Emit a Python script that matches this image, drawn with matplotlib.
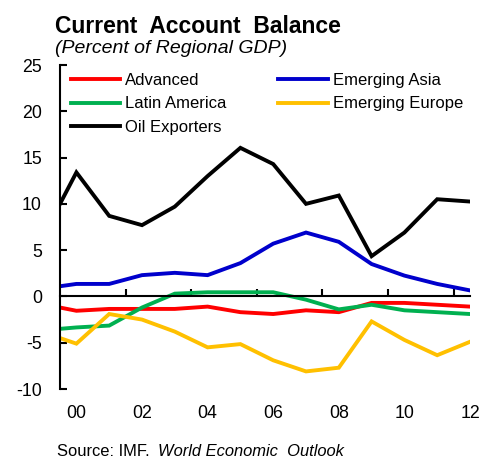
import numpy as np
import matplotlib
matplotlib.use("Agg")
import matplotlib.pyplot as plt
import matplotlib.transforms as mtransforms

plt.rcParams['font.family'] = ['Liberation Sans', 'DejaVu Sans']

years = np.arange(1999, 2013)
advanced = [-0.85, -1.55, -1.35, -1.35, -1.35, -1.1, -1.7, -1.9, -1.5, -1.7, -0.7, -0.7, -0.9, -1.1]
emerging_asia = [0.85, 1.35, 1.35, 2.3, 2.55, 2.3, 3.6, 5.7, 6.9, 5.9, 3.5, 2.25, 1.35, 0.65]
latin_america = [-3.65, -3.35, -3.15, -1.2, 0.3, 0.45, 0.45, 0.45, -0.35, -1.4, -0.9, -1.5, -1.7, -1.9]
emerging_europe = [-3.9, -5.1, -1.9, -2.5, -3.8, -5.5, -5.15, -6.9, -8.1, -7.7, -2.7, -4.7, -6.35, -4.9]
oil_exporters = [6.6, 13.4, 8.7, 7.7, 9.7, 13.0, 16.05, 14.3, 10.0, 10.9, 4.35, 6.9, 10.5, 10.25]

series_names = ["Advanced", "Latin America", "Oil Exporters", "Emerging Asia", "Emerging Europe"]
series_values = [advanced, latin_america, oil_exporters, emerging_asia, emerging_europe]
series_colors = ["#FF0000", "#00B050", "#000000", "#0000CC", "#FFC000"]

xtick_years = [2000, 2002, 2004, 2006, 2008, 2010, 2012]
xtick_labels = ["00", "02", "04", "06", "08", "10", "12"]
yticks = [-10, -5, 0, 5, 10, 15, 20, 25]
ytick_labels = ["-10", "-5", "0", "5", "10", "15", "20", "25"]

fig = plt.figure(figsize=(4.86, 4.58), dpi=100)
ax = fig.add_axes([60/486, 1-389/458, 410/486, 324/458])

handles = []
for name, vals, col in zip(series_names, series_values, series_colors):
    h, = ax.plot(years, vals, color=col, lw=2.8, label=name, solid_joinstyle='miter')
    handles.append(h)

ax.set_xlim(1999.5, 2012)
ax.set_ylim(-10, 25)

for s in ['top', 'right']:
    ax.spines[s].set_visible(False)
ax.spines['bottom'].set_position(('data', 0))
ax.spines['bottom'].set_linewidth(1.5)
ax.spines['left'].set_linewidth(1.5)

ax.set_yticks(yticks)
ax.set_yticklabels(ytick_labels)
ax.tick_params(axis='y', direction='in', length=5, width=1.5, pad=13, labelsize=12.8)
ax.set_xticks(np.arange(2001.5, 2012, 2))
ax.set_xticklabels([])
ax.tick_params(axis='x', direction='in', length=5, width=1.5)

trans = mtransforms.blended_transform_factory(ax.transData, ax.transAxes)
for yr, lab in zip(xtick_years, xtick_labels):
    ax.text(yr, -0.075, lab, transform=trans, ha='center', va='center', fontsize=12.8)

leg = ax.legend(handles=handles, ncol=2, loc='upper left', bbox_to_anchor=(0.026, 0.975),
                frameon=False, fontsize=12, handlelength=2.95, handletextpad=0.33,
                columnspacing=3.1, labelspacing=0.5, borderpad=0, borderaxespad=0)

fig.text(55/486, 1-33.3/458, "Current  Account  Balance", fontsize=16.5, fontweight='bold',
         ha='left', va='baseline')
fig.text(55/486, 1-53.3/458, "(Percent of Regional GDP)", fontsize=14, style='italic',
         ha='left', va='baseline')
t1 = fig.text(57/486, 1-456/458, "Source: IMF.", fontsize=11.9, ha='left', va='baseline')
fig.canvas.draw()
bb = t1.get_window_extent()
fig.text((bb.x1 + 8)/486, 1-456/458, "World Economic  Outlook", fontsize=11.9, style='italic',
         ha='left', va='baseline')

fig.savefig("out.png", dpi=100)
